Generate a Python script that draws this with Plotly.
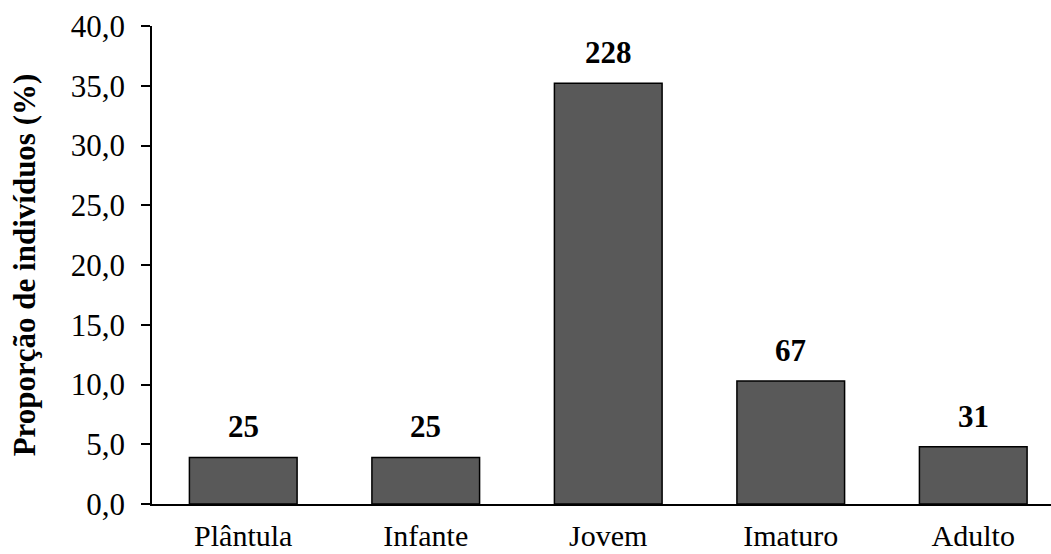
import plotly.graph_objects as go

# Size classes, proportion of individuals (%) and counts per class
classes = ["Plântula", "Infante", "Jovem", "Imaturo", "Adulto"]
proportion = [3.9, 3.9, 35.2, 10.3, 4.8]
counts = [25, 25, 228, 67, 31]
y_ticks = [0, 5, 10, 15, 20, 25, 30, 35, 40]

FONT = "Liberation Serif, Times New Roman, serif"
FS = 31

fig = go.Figure(
    go.Bar(
        x=list(range(len(classes))),
        y=proportion,
        width=0.59,
        marker=dict(color="#595959", line=dict(color="#000000", width=1.5)),
        hoverinfo="skip",
    )
)

# Count labels above each bar
for i, (v, n) in enumerate(zip(proportion, counts)):
    fig.add_annotation(
        x=i, y=v, text=f"<b>{n}</b>", showarrow=False,
        yanchor="bottom", yshift=11,
        font=dict(family=FONT, size=FS, color="#000000"),
    )

fig.update_layout(
    width=1051, height=554,
    margin=dict(l=152, r=0, t=26, b=50),
    paper_bgcolor="white", plot_bgcolor="white",
    separators=",.",
    showlegend=False,
    font=dict(family=FONT, size=FS, color="#000000"),
)

fig.update_xaxes(
    range=[-0.5, 4.426],
    tickmode="array",
    tickvals=list(range(len(classes))),
    ticktext=classes,
    showline=True, linecolor="#000000", linewidth=1.5,
    ticks="", showgrid=False, zeroline=False,
    ticklabelstandoff=4,
    automargin=False,
    tickfont=dict(family=FONT, size=30, color="#000000"),
)

fig.update_yaxes(
    range=[0, 40],
    tickmode="array",
    tickvals=y_ticks,
    tickformat=".1f",
    showline=True, linecolor="#000000", linewidth=1.5,
    ticks="outside", ticklen=9, tickwidth=1.5, tickcolor="#000000",
    showgrid=False, zeroline=False,
    ticklabelstandoff=10,
    automargin=False,
    tickfont=dict(family=FONT, size=FS, color="#000000"),
    title=dict(
        text="<b>Proporção de indivíduos (%)</b>",
        font=dict(family=FONT, size=FS, color="#000000"),
        standoff=26,
    ),
)

fig.write_html("out.html")
